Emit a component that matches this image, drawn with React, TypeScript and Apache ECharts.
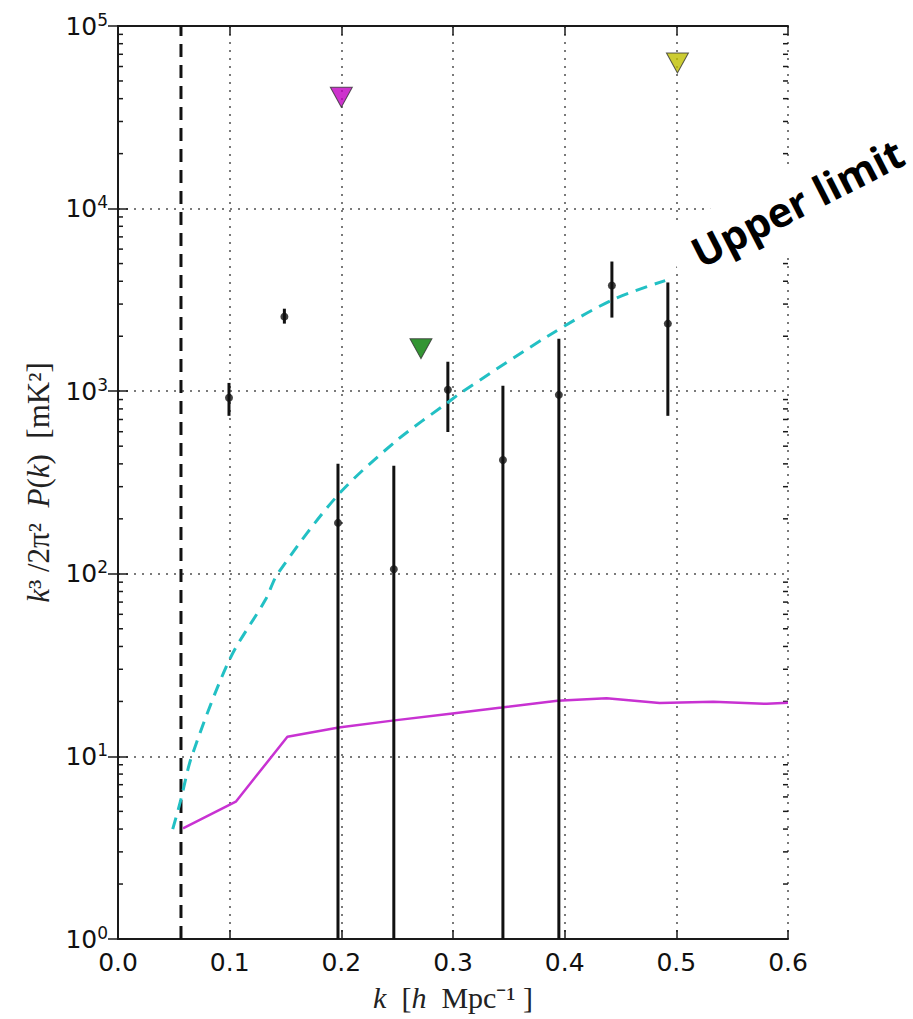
import React, { useEffect, useRef } from "react";
import * as echarts from "echarts";

// ---- axes ----
const xTickValues = [0, 0.1, 0.2, 0.3, 0.4, 0.5, 0.6];
const yDecades = [1, 10, 100, 1000, 10000, 100000];
const minorMultipliers = [2, 3, 4, 5, 6, 7, 8, 9];

// ---- vertical cutoff (dashed black) ----
const cutoffK = [0.0564];

// ---- measurements with error bars ----
const measK = [0.0994, 0.149, 0.197, 0.247, 0.2954, 0.3447, 0.3948, 0.4423, 0.4924];
const measP = [920, 2560, 190, 106, 1018, 420, 955, 3790, 2345];
const measHi = [1110, 2830, 400, 390, 1450, 1070, 1940, 5130, 3940];
const measLo: (number | null)[] = [733, 2345, null, null, 598, null, null, 2530, 733];

// ---- upper limits (triangles) ----
const limitK = [0.2, 0.2713, 0.501];
const limitP = [40700, 1710, 62700];
const limitColors = ["#c000c0", "#007a00", "#bfbf00"];

// ---- model (cyan dashed) ----
const modelK = [0.049, 0.056, 0.066, 0.1, 0.132, 0.143, 0.197, 0.25, 0.2945, 0.308, 0.387, 0.443, 0.49];
const modelP = [4.0, 5.7, 10, 34, 72, 100, 270, 540, 860, 990, 2040, 3170, 4035];

// ---- noise (magenta solid) ----
const noiseK = [0.0582, 0.1055, 0.1517, 0.1977, 0.2457, 0.2995, 0.3435, 0.3935, 0.4375, 0.485, 0.533, 0.581, 0.6];
const noiseP = [4.03, 5.65, 12.8, 14.4, 15.7, 17.2, 18.5, 20.2, 20.8, 19.6, 19.9, 19.4, 19.7];

export default function App() {
  const ref = useRef<HTMLDivElement>(null);
  useEffect(() => {
    if (!ref.current) return;
    const chart = echarts.init(ref.current, null, { renderer: "svg" });
    const spine = "#1a1a1a";
    const minorVals: number[] = [];
    yDecades.slice(0, -1).forEach((d) => minorMultipliers.forEach((m) => minorVals.push(d * m)));

    const serif = "Liberation Serif";
    const axisNameStyle = (size: number) => ({
      fontFamily: serif,
      fontSize: size,
      color: "#222",
      rich: {
        i: { fontFamily: serif, fontStyle: "italic", fontSize: size, color: "#222" },
        n: { fontFamily: serif, fontSize: size, color: "#222" },
      },
    });

    const option: any = {
      animation: false,
      backgroundColor: "#ffffff",
      grid: { left: 118, right: 125, top: 26, bottom: 80, containLabel: false },
      xAxis: [
        {
          type: "value",
          min: xTickValues[0],
          max: xTickValues[xTickValues.length - 1],
          interval: 0.1,
          position: "bottom",
          axisLine: { lineStyle: { color: spine, width: 2 } },
          axisTick: { inside: true, length: 9, lineStyle: { color: spine, width: 1.5 } },
          axisLabel: {
            formatter: (v: number) => v.toFixed(1),
            fontFamily: "DejaVu Sans",
            fontSize: 25,
            color: "#111",
            margin: 11,
          },
          splitLine: { show: true, lineStyle: { color: "#7a7a7a", width: 2, type: [2, 6] } },
          name: "{i|k}{n|  [}{i|h}{n|  Mpc⁻¹ ]}",
          nameLocation: "middle",
          nameGap: 43,
          nameTextStyle: axisNameStyle(30),
        },
        {
          type: "value",
          min: xTickValues[0],
          max: xTickValues[xTickValues.length - 1],
          interval: 0.1,
          position: "top",
          axisLine: { lineStyle: { color: spine, width: 2 } },
          axisTick: { inside: true, length: 9, lineStyle: { color: spine, width: 1.5 } },
          axisLabel: { show: false },
          splitLine: { show: false },
        },
      ],
      yAxis: [
        {
          type: "log",
          logBase: 10,
          min: yDecades[0],
          max: yDecades[yDecades.length - 1],
          position: "left",
          axisLine: { lineStyle: { color: spine, width: 2 } },
          axisTick: { inside: true, length: 10, lineStyle: { color: spine, width: 1.5 } },
          axisLabel: {
            formatter: (v: number) => "{b|10}{e|" + Math.round(Math.log10(v)) + "}",
            margin: 10,
            rich: {
              b: { fontFamily: "DejaVu Sans", fontSize: 25, color: "#111", lineHeight: 30 },
              e: { fontFamily: "DejaVu Sans", fontSize: 17, color: "#111", lineHeight: 16, verticalAlign: "top" },
            },
          },
          splitLine: { show: true, lineStyle: { color: "#7a7a7a", width: 2, type: [2, 6] } },
          name: "{i|k}{n|³ /2π²  }{i|P}{n|(}{i|k}{n|)  [mK²]}",
          nameLocation: "middle",
          nameRotate: 90,
          nameGap: 62,
          nameTextStyle: axisNameStyle(31),
        },
        {
          type: "log",
          logBase: 10,
          min: yDecades[0],
          max: yDecades[yDecades.length - 1],
          position: "right",
          axisLine: { lineStyle: { color: spine, width: 2 } },
          axisTick: { inside: true, length: 10, lineStyle: { color: spine, width: 1.5 } },
          axisLabel: { show: false },
          splitLine: { show: false },
        },
      ],
      series: [
        {
          type: "custom",
          name: "minor ticks",
          silent: true,
          xAxisIndex: 0,
          yAxisIndex: 0,
          encode: { x: 0, y: 1 },
          data: minorVals.map((v) => [xTickValues[0], v]),
          renderItem: (params: any, api: any) => {
            const cs = params.coordSys;
            const y = api.coord([api.value(0), api.value(1)])[1];
            const st = { stroke: spine, lineWidth: 1.5 };
            return {
              type: "group",
              children: [
                { type: "line", shape: { x1: cs.x, y1: y, x2: cs.x + 5, y2: y }, style: st },
                { type: "line", shape: { x1: cs.x + cs.width - 5, y1: y, x2: cs.x + cs.width, y2: y }, style: st },
              ],
            };
          },
          z: 3,
        },
        {
          type: "line",
          name: "cutoff",
          data: [
            [cutoffK[0], yDecades[0]],
            [cutoffK[0], yDecades[yDecades.length - 1]],
          ],
          symbol: "none",
          lineStyle: { color: "#111", width: 3, type: [13, 8] },
          z: 3,
        },
        {
          type: "line",
          name: "noise",
          data: noiseK.map((k, i) => [k, noiseP[i]]),
          symbol: "none",
          lineStyle: { color: "#c832d2", width: 2.5 },
          z: 3,
        },
        {
          type: "custom",
          name: "error bars",
          encode: { x: 0, y: 1 },
          data: measK.map((k, i) => [k, measHi[i], measLo[i] == null ? 0 : measLo[i]]),
          renderItem: (params: any, api: any) => {
            const cs = params.coordSys;
            const top = api.coord([api.value(0), api.value(1)]);
            const lo = api.value(2);
            const yBot = lo > 0 ? api.coord([api.value(0), lo])[1] : cs.y + cs.height;
            return {
              type: "line",
              shape: { x1: top[0], y1: top[1], x2: top[0], y2: yBot },
              style: { stroke: "#111", lineWidth: 3 },
            };
          },
          z: 4,
        },
        {
          type: "scatter",
          name: "measurements",
          data: measK.map((k, i) => [k, measP[i]]),
          symbol: "circle",
          symbolSize: 8,
          itemStyle: { color: "#111" },
          z: 5,
        },
        {
          type: "line",
          name: "model",
          data: modelK.map((k, i) => [k, modelP[i]]),
          symbol: "none",
          smooth: 0.3,
          lineStyle: { color: "#22c0c4", width: 3, type: [12, 8] },
          z: 6,
        },
        {
          type: "scatter",
          name: "upper limits",
          data: limitK.map((k, i) => ({ value: [k, limitP[i]], itemStyle: { color: limitColors[i] } })),
          symbol: "triangle",
          symbolRotate: 180,
          symbolSize: [22, 20],
          itemStyle: { borderColor: "#333", borderWidth: 1 },
          z: 7,
        },
      ],
      graphic: [
        {
          type: "polygon",
          z: 100,
          silent: true,
          shape: { points: [[660, 234], [927, 98], [962, 167], [695, 303]] },
          style: { fill: "#ffffff" },
        },
        {
          type: "text",
          z: 101,
          x: 797,
          y: 202,
          rotation: (27 * Math.PI) / 180,
          style: {
            text: "Upper limit",
            fontFamily: "Open Sans",
            fontWeight: "bold",
            fontSize: 41,
            fill: "#000",
            align: "center",
            verticalAlign: "middle",
          },
        },
      ],
    };
    chart.setOption(option);
    return () => chart.dispose();
  }, []);
  return <div ref={ref} style={{ position: "absolute", left: 0, top: 0, width: 913, height: 1019 }} />;
}
